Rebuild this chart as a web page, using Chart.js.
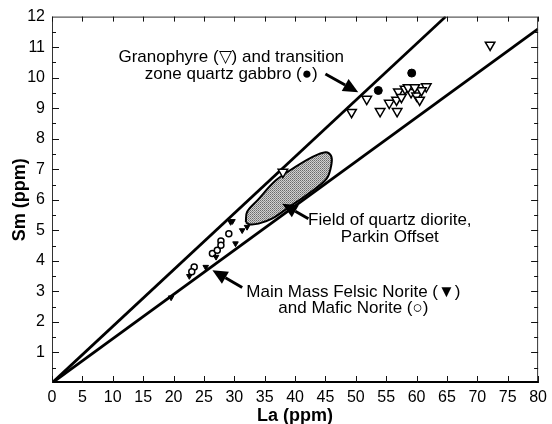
<!DOCTYPE html>
<html>
<head>
<meta charset="utf-8">
<script src="https://cdn.jsdelivr.net/npm/chart.js@4.4.0/dist/chart.umd.min.js"></script>
<style>
  html, body { margin: 0; padding: 0; background: #fff; }
  #wrap { width: 552px; height: 424px; }
</style>
</head>
<body>
<div id="wrap"><canvas id="chart" width="552" height="424"></canvas></div>
<script>
// Granophyre (open down triangles)
const granoLa = [49.3, 51.8, 54.0, 55.5, 56.8, 57.0, 56.7, 58.1, 59.1, 60.0, 60.5, 61.6, 60.8, 58.6, 57.5, 59.7, 72.1, 38.0];
const granoSm = [8.87, 9.30, 8.90, 9.17, 8.90, 9.54, 9.27, 9.63, 9.52, 9.41, 9.27, 9.71, 9.58, 9.68, 9.36, 9.68, 11.07, 6.91];
// transition zone quartz gabbro (filled circles)
const gabbroLa = [53.7, 59.2];
const gabbroSm = [9.58, 10.15];
// Main Mass Felsic Norite (filled down triangles)
const felsicLa = [19.6, 25.3, 22.6, 27.0, 29.7, 30.2, 31.3, 32.1, 29.4];
const felsicSm = [2.80, 3.80, 3.50, 4.13, 5.30, 4.57, 5.00, 5.11, 5.27];
// Mafic Norite (open circles)
const maficLa = [23.4, 23.0, 26.4, 27.2, 27.8, 29.1, 27.8];
const maficSm = [3.80, 3.64, 4.24, 4.35, 4.65, 4.89, 4.51];
// field of quartz diorite, Parkin Offset (outline)
const fieldLa = [31.9, 32.1, 33.8, 36.8, 40.0, 42.8, 45.0, 45.9, 46.0, 45.2, 42.2, 39.0, 36.2, 34.0, 32.4, 31.9];
const fieldSm = [5.27, 5.60, 5.98, 6.63, 7.07, 7.40, 7.56, 7.45, 7.18, 6.69, 6.20, 5.76, 5.38, 5.22, 5.20, 5.27];
// reference lines through the origin
const steepLa = [0, 64.8];
const steepSm = [0, 12];
const shallowLa = [0, 80];
const shallowSm = [0, 11.6];
// arrows [fromLa, fromSm, toLa, toSm]
const arrows = [
  [45.0, 10.12, 50.4, 9.52],
  [42.2, 5.38, 37.9, 5.87],
  [31.3, 3.13, 26.4, 3.69]
];
// labels [text, La, Sm]
const notes = [
  ['Granophyre (\u25BD) and transition', 29.5, 10.67],
  ['zone quartz gabbro (\u25CF)', 29.5, 10.11],
  ['Field of quartz diorite,', 55.6, 5.33],
  ['Parkin Offset', 55.6, 4.77],
  ['Main Mass Felsic Norite (\u25BC)', 49.6, 2.98],
  ['and Mafic Norite (\u25CB)', 49.6, 2.45]
];
const xTicks = [0, 5, 10, 15, 20, 25, 30, 35, 40, 45, 50, 55, 60, 65, 70, 75, 80];

const pts = (xs, ys) => xs.map((v, i) => ({ x: v, y: ys[i] }));

// stippled grey for the field
const pc = document.createElement('canvas');
pc.width = 2; pc.height = 2;
const pctx = pc.getContext('2d');
pctx.fillStyle = '#d0d0d0'; pctx.fillRect(0, 0, 2, 2);
pctx.fillStyle = '#6a6a6a'; pctx.fillRect(0, 0, 1, 1);
pctx.fillStyle = '#8c8c8c'; pctx.fillRect(1, 1, 1, 1);
const stipple = pctx.createPattern(pc, 'repeat');

const txtFont = '17px "Liberation Sans", Arial, sans-serif';

const extras = {
  id: 'extras',
  afterDraw(chart) {
    const { ctx, chartArea: a, scales: { x, y } } = chart;
    ctx.save();
    // frame
    ctx.strokeStyle = '#333';
    ctx.lineWidth = 1;
    ctx.strokeRect(a.left + 0.5, a.top + 0.5, a.right - a.left - 1, a.bottom - a.top - 1);
    ctx.strokeStyle = '#000';
    ctx.lineWidth = 2;
    ctx.beginPath();
    ctx.moveTo(a.left, a.bottom - 1);
    ctx.lineTo(a.right, a.bottom - 1);
    ctx.stroke();
    // inward ticks
    ctx.lineWidth = 1;
    ctx.strokeStyle = '#111';
    ctx.beginPath();
    xTicks.forEach(v => {
      const px = Math.round(x.getPixelForValue(v)) + 0.5;
      ctx.moveTo(px, a.bottom); ctx.lineTo(px, a.bottom - 7);
      ctx.moveTo(px, a.top); ctx.lineTo(px, a.top + 5);
    });
    for (let v = 1; v < 12; v++) {
      const py = Math.round(y.getPixelForValue(v)) + 0.5;
      ctx.moveTo(a.left, py); ctx.lineTo(a.left + 7, py);
      ctx.moveTo(a.right, py); ctx.lineTo(a.right - 7, py);
    }
    for (let v = 0.5; v < 12; v += 1) {
      const py = Math.round(y.getPixelForValue(v)) + 0.5;
      ctx.moveTo(a.left, py); ctx.lineTo(a.left + 4, py);
      ctx.moveTo(a.right, py); ctx.lineTo(a.right - 4, py);
    }
    ctx.stroke();
    // arrows
    ctx.fillStyle = '#000';
    ctx.strokeStyle = '#000';
    arrows.forEach(([la1, sm1, la2, sm2]) => {
      const x1 = x.getPixelForValue(la1), y1 = y.getPixelForValue(sm1);
      const x2 = x.getPixelForValue(la2), y2 = y.getPixelForValue(sm2);
      const ang = Math.atan2(y2 - y1, x2 - x1);
      const hl = 15, hw = 7;
      const bx = x2 - Math.cos(ang) * hl, by = y2 - Math.sin(ang) * hl;
      ctx.lineWidth = 3;
      ctx.beginPath();
      ctx.moveTo(x1, y1); ctx.lineTo(bx, by);
      ctx.stroke();
      ctx.beginPath();
      ctx.moveTo(x2, y2);
      ctx.lineTo(bx + Math.sin(ang) * hw, by - Math.cos(ang) * hw);
      ctx.lineTo(bx - Math.sin(ang) * hw, by + Math.cos(ang) * hw);
      ctx.closePath();
      ctx.fill();
    });
    // notes
    ctx.font = txtFont;
    ctx.textAlign = 'center';
    ctx.textBaseline = 'middle';
    notes.forEach(([t, la, sm]) => {
      ctx.fillText(t, x.getPixelForValue(la), y.getPixelForValue(sm));
    });
    ctx.restore();
  }
};

new Chart(document.getElementById('chart').getContext('2d'), {
  type: 'scatter',
  data: {
    datasets: [
      {
        data: pts(fieldLa, fieldSm),
        showLine: true,
        tension: 0.35,
        fill: 'shape',
        backgroundColor: stipple,
        borderColor: '#000',
        borderWidth: 2,
        pointRadius: 0,
        order: 3
      },
      {
        data: pts(steepLa, steepSm),
        showLine: true,
        borderColor: '#000',
        borderWidth: 2.8,
        pointRadius: 0,
        order: 2
      },
      {
        data: pts(shallowLa, shallowSm),
        showLine: true,
        borderColor: '#000',
        borderWidth: 2.8,
        pointRadius: 0,
        order: 2
      },
      {
        data: pts(granoLa, granoSm),
        pointStyle: 'triangle',
        rotation: 180,
        pointRadius: 5.5,
        backgroundColor: '#fff',
        borderColor: '#000',
        borderWidth: 1.5,
        order: 0
      },
      {
        data: pts(gabbroLa, gabbroSm),
        pointStyle: 'circle',
        pointRadius: 4,
        backgroundColor: '#000',
        borderColor: '#000',
        borderWidth: 1,
        order: 0
      },
      {
        data: pts(felsicLa, felsicSm),
        pointStyle: 'triangle',
        rotation: 180,
        pointRadius: 3.2,
        backgroundColor: '#000',
        borderColor: '#000',
        borderWidth: 1,
        order: 0
      },
      {
        data: pts(maficLa, maficSm),
        pointStyle: 'circle',
        pointRadius: 3,
        backgroundColor: '#fff',
        borderColor: '#000',
        borderWidth: 1.5,
        order: 0
      }
    ]
  },
  options: {
    responsive: false,
    animation: false,
    layout: { padding: { top: 16, right: 11, left: 0, bottom: 0 } },
    plugins: {
      legend: { display: false },
      tooltip: { enabled: false }
    },
    scales: {
      x: {
        type: 'linear',
        min: 0,
        max: 80,
        afterFit(s) { s.height = 41; },
        afterBuildTicks(s) { s.ticks = xTicks.map(v => ({ value: v })); },
        grid: { display: false, drawTicks: false },
        border: { display: false },
        ticks: {
          color: '#000',
          padding: 5,
          autoSkip: false,
          maxRotation: 0,
          font: { family: '"Liberation Sans", Arial, sans-serif', size: 16 }
        },
        title: {
          display: true,
          text: 'La (ppm)',
          color: '#000',
          padding: { top: 0, bottom: 0 },
          font: { family: '"Liberation Sans", Arial, sans-serif', size: 18, weight: 'bold', lineHeight: 0.9 }
        }
      },
      y: {
        type: 'linear',
        min: 0,
        max: 12,
        afterFit(s) { s.width = 52; },
        grid: { display: false, drawTicks: false },
        border: { display: false },
        ticks: {
          stepSize: 1,
          color: '#000',
          padding: 7,
          callback: v => (v === 0 ? '' : v),
          font: { family: '"Liberation Sans", Arial, sans-serif', size: 16 }
        },
        title: {
          display: true,
          text: 'Sm (ppm)',
          color: '#000',
          padding: { top: 9, bottom: 0 },
          font: { family: '"Liberation Sans", Arial, sans-serif', size: 18, weight: 'bold' }
        }
      }
    }
  },
  plugins: [extras]
});
</script>
</body>
</html>
